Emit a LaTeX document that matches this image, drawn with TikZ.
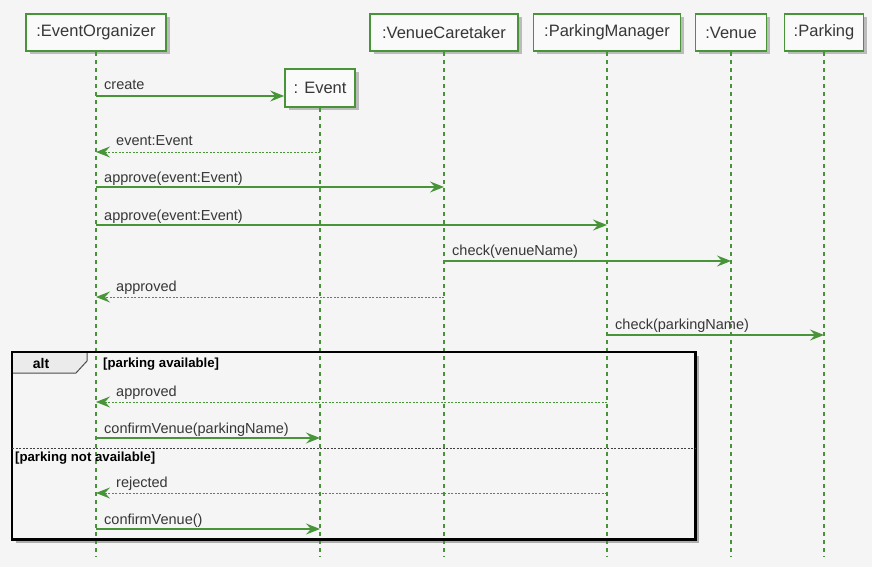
\documentclass[tikz,border=0pt]{standalone}
\usepackage{fontspec}
\setmainfont{Liberation Sans}
\usetikzlibrary{arrows.meta,calc,shadows}
\definecolor{ug}{RGB}{72,148,56}
\definecolor{bg}{RGB}{245,245,245}
\definecolor{txt}{RGB}{55,55,55}
\begin{document}
\begin{tikzpicture}[x=1pt,y=-1pt,
  part/.style={draw=ug,line width=1.7pt,fill=white!55!bg,text=txt,
    font=\fontsize{16.5}{18}\selectfont,inner sep=0pt,minimum height=37pt,
    drop shadow={shadow xshift=3.5pt,shadow yshift=-3.5pt,opacity=0.4,fill=black!60}},
  life/.style={draw=ug,line width=1.1pt,dash pattern=on 4pt off 4pt},
  msg/.style={draw=ug,line width=1.2pt,-{Stealth[length=14pt,width=11pt,inset=5pt]}},
  ret/.style={msg,dash pattern=on 2pt off 1.5pt,line width=0.9pt},
  lbl/.style={text=txt,font=\fontsize{14.5}{16}\selectfont,inner sep=0pt},
  guard/.style={text=black,font=\bfseries\fontsize{13.2}{15}\selectfont,inner sep=0pt,anchor=west},
  frame/.style={fill=bg,inner sep=0pt,anchor=north west,
    drop shadow={shadow xshift=4pt,shadow yshift=-4pt,opacity=0.5,fill=black!60}},
]
\useasboundingbox[fill=bg] (0,0) rectangle (872,567);
\coordinate (bot) at (0,557);
% alt frame background and shadow
\node[frame,minimum width=683pt,minimum height=187pt] (alt) at (12,352) {};
% participants
\node[part,minimum width=140pt] (eo) at (96,32.5) {:EventOrganizer};
\node[part,minimum width=148pt] (vc) at (444,32.5) {:VenueCaretaker};
\node[part,minimum width=147pt] (pm) at (607,32.5) {:ParkingManager};
\node[part,minimum width=71pt] (ve) at (731,32.5) {:Venue};
\node[part,minimum width=79pt] (pk) at (824,32.5) {:Parking};
\node[part,minimum width=70pt,minimum height=38pt] (ev) at (320,88) {: Event};
% lifelines
\draw[life] (eo.south) -- (eo.south |- bot);
\draw[life] (ev.south) -- (ev.south |- bot);
\draw[life] (vc.south) -- (vc.south |- bot);
\draw[life] (pm.south) -- (pm.south |- bot);
\draw[life] (ve.south) -- (ve.south |- bot);
\draw[life] (pk.south) -- (pk.south |- bot);
% alt tab and border
\path[fill=black!8,draw=black!70,line width=1pt] (alt.north west) -- ++(75,0) -- ++(0,9) -- ++(-11,12) -- ++(-64,0) -- cycle;
\draw[draw=black,line width=2.2pt] (alt.north west) rectangle (alt.south east);
\node[text=black,font=\bfseries\fontsize{14}{16}\selectfont,inner sep=0pt] (altl) at (41,363) {alt};
\coordinate (sepy) at (0,448);
\draw[black!75,line width=0.8pt,dash pattern=on 2pt off 1.5pt] (alt.west |- sepy) -- (alt.east |- sepy);
\node[guard] (g1) at (103,364) {[parking available]};
\node[guard] (g2) at (15,458) {[parking not available]};
% message rows
\coordinate (r1) at (0,96);
\coordinate (r2) at (0,152);
\coordinate (r3) at (0,187);
\coordinate (r4) at (0,225);
\coordinate (r5) at (0,261);
\coordinate (r6) at (0,297);
\coordinate (r7) at (0,335);
\coordinate (r8) at (0,402);
\coordinate (r9) at (0,438);
\coordinate (r10) at (0,493);
\coordinate (r11) at (0,529);
% messages
\draw[msg] (eo.south |- r1) -- (ev.west |- r1);
\node[lbl,anchor=base west] (l1) at ($(eo.south |- r1)+(8,-6)$) {create};
\draw[ret] (ev.south |- r2) -- (eo.south |- r2);
\node[lbl,anchor=base west] (l2) at ($(eo.south |- r2)+(20,-6)$) {event:Event};
\draw[msg] (eo.south |- r3) -- (vc.south |- r3);
\node[lbl,anchor=base west] (l3) at ($(eo.south |- r3)+(8,-5)$) {approve(event:Event)};
\draw[msg] (eo.south |- r4) -- (pm.south |- r4);
\node[lbl,anchor=base west] (l4) at ($(eo.south |- r4)+(8,-5)$) {approve(event:Event)};
\draw[msg] (vc.south |- r5) -- (ve.south |- r5);
\node[lbl,anchor=base west] (l5) at ($(vc.south |- r5)+(8,-6)$) {check(venueName)};
\draw[ret] (vc.south |- r6) -- (eo.south |- r6);
\node[lbl,anchor=base west] (l6) at ($(eo.south |- r6)+(20,-6)$) {approved};
\draw[msg] (pm.south |- r7) -- (pk.south |- r7);
\node[lbl,anchor=base west] (l7) at ($(pm.south |- r7)+(8,-6)$) {check(parkingName)};
\draw[ret] (pm.south |- r8) -- (eo.south |- r8);
\node[lbl,anchor=base west] (l8) at ($(eo.south |- r8)+(20,-6)$) {approved};
\draw[msg] (eo.south |- r9) -- (ev.south |- r9);
\node[lbl,anchor=base west] (l9) at ($(eo.south |- r9)+(8,-5)$) {confirmVenue(parkingName)};
\draw[ret] (pm.south |- r10) -- (eo.south |- r10);
\node[lbl,anchor=base west] (l10) at ($(eo.south |- r10)+(20,-6)$) {rejected};
\draw[msg] (eo.south |- r11) -- (ev.south |- r11);
\node[lbl,anchor=base west] (l11) at ($(eo.south |- r11)+(8,-5)$) {confirmVenue()};
\end{tikzpicture}
\end{document}
